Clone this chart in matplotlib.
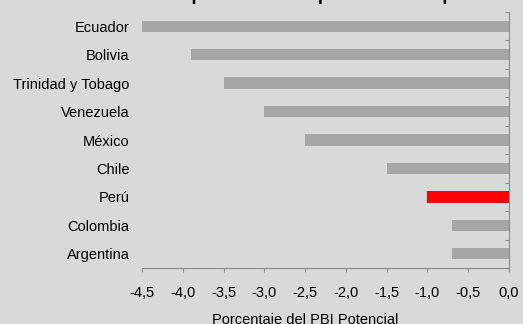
import matplotlib
matplotlib.use("Agg")
import matplotlib.pyplot as plt
from matplotlib.ticker import FixedLocator

BG = "#d9d9d9"
GREY_BAR = "#a6a6a6"
AXIS = "#8c8c8c"

countries = ["Ecuador", "Bolivia", "Trinidad y Tobago", "Venezuela", "México",
             "Chile", "Perú", "Colombia", "Argentina"]
values = [-4.5, -3.9, -3.5, -3.0, -2.5, -1.5, -1.0, -0.7, -0.7]
highlight = "Perú"
xticks = [-4.5, -4.0, -3.5, -3.0, -2.5, -2.0, -1.5, -1.0, -0.5, 0.0]

plt.rcParams["font.family"] = ["Liberation Sans", "DejaVu Sans"]
FS = 10.5

fig = plt.figure(figsize=(5.23, 3.24), dpi=100, facecolor=BG)
ax = fig.add_axes([142 / 523, 1 - 268 / 324, 367 / 523, 256 / 324], facecolor=BG)

pos = list(range(len(countries)))
colors = ["#ff0000" if c == highlight else GREY_BAR for c in countries]
ax.barh(pos, values, height=0.4, color=colors, zorder=2)

ax.set_xlim(-4.5, 0.0)
ax.set_ylim(len(countries) - 0.5, -0.5)

# x axis
ax.set_xticks(xticks)
ax.set_xticklabels([f"{v:.1f}".replace(".", ",") for v in xticks], fontsize=FS)
ax.tick_params(axis="x", direction="out", length=3, width=0.8, color=AXIS, pad=10)
ax.set_xlabel("Porcentaje del PBI Potencial", fontsize=FS)
ax.xaxis.set_label_coords((305 - 142) / 367, -(313 - 268) / 256)

# y axis: labels on the left, spine with boundary ticks on the right
ax.set_yticks(pos)
ax.set_yticklabels(countries, fontsize=FS)
ax.tick_params(axis="y", which="major", length=0, pad=9)
ax.yaxis.set_minor_locator(FixedLocator([p + 0.5 for p in range(-1, len(countries))]))
ax.tick_params(axis="y", which="minor", left=False, right=True, direction="in",
               length=3, width=0.8, color=AXIS)

for side in ["left", "top"]:
    ax.spines[side].set_visible(False)
for side in ["right", "bottom"]:
    ax.spines[side].set_color(AXIS)
    ax.spines[side].set_linewidth(0.8)

# title, cut off by the top edge of the picture (as in the source)
fig.text(169.5 / 523, 1.0, "Impulso fiscal esperado en los países", fontsize=13.25,
         fontweight="bold", ha="left", va="baseline")

fig.savefig("out.png", dpi=100, facecolor=BG)
